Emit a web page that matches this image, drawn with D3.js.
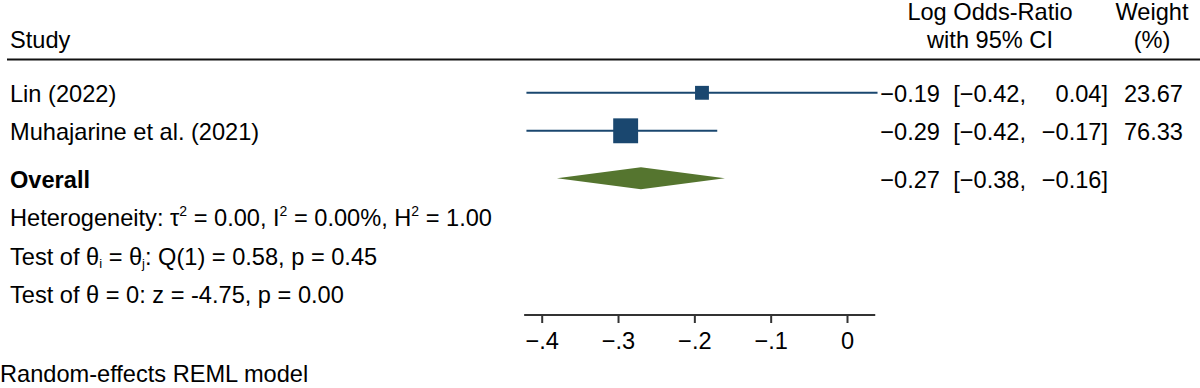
<!DOCTYPE html>
<html>
<head>
<meta charset="utf-8">
<script src="https://cdn.jsdelivr.net/npm/d3@7"></script>
<style>
  html, body { margin: 0; padding: 0; background: #fff; }
  svg { display: block; }
  text { font-family: "Liberation Sans", Arial, Helvetica, sans-serif; font-size: 23.6px; fill: #000; }
</style>
</head>
<body>
<svg id="chart" width="1200" height="388"></svg>
<script>
// ---- data ----
const studies = ["Lin (2022)", "Muhajarine et al. (2021)"];
const estimates = [-0.19, -0.29];
const ciLow = [-0.42, -0.42];
const ciHigh = [0.04, -0.17];
const weights = [23.67, 76.33];
const overall = { label: "Overall", est: -0.27, lo: -0.38, hi: -0.16 };
const statLines = [
  "Heterogeneity: τ² = 0.00, I² = 0.00%, H² = 1.00",
  "Test of θi = θj: Q(1) = 0.58, p = 0.45",
  "Test of θ = 0: z = -4.75, p = 0.00"
];
const tickValues = [-0.4, -0.3, -0.2, -0.1, 0];
const tickLabels = ["\u2212.4", "\u2212.3", "\u2212.2", "\u2212.1", "0"];
const footnote = "Random-effects REML model";

// ---- setup ----
const navy = "#1a476f";
const green = "#55752f";
const svg = d3.select("#chart");
const x = d3.scaleLinear().domain([-0.4, 0]).range([541.7, 847]);
const size = d3.scaleSqrt().domain([0, 100]).range([0, 28.5]);

const fmt = v => (v < 0 ? "\u2212" : "") + Math.abs(v).toFixed(2);

// header
svg.append("text").attr("x", 10).attr("y", 48).text("Study");
svg.append("text").attr("x", 990).attr("y", 20).attr("text-anchor", "middle").text("Log Odds-Ratio");
svg.append("text").attr("x", 990).attr("y", 48).attr("text-anchor", "middle").text("with 95% CI");
svg.append("text").attr("x", 1152).attr("y", 20).attr("text-anchor", "middle").text("Weight");
svg.append("text").attr("x", 1152).attr("y", 48).attr("text-anchor", "middle").text("(%)");
svg.append("line").attr("x1", 7).attr("x2", 1200).attr("y1", 59.5).attr("y2", 59.5)
  .attr("stroke", "#111").attr("stroke-width", 2);

const rowBase = [101.5, 139.5];
studies.forEach((s, i) => {
  const b = rowBase[i];
  const cy = b - 8.7;
  svg.append("text").attr("x", 10).attr("y", b).text(s);
  svg.append("line").attr("x1", x(ciLow[i])).attr("x2", x(ciHigh[i]))
    .attr("y1", cy).attr("y2", cy).attr("stroke", navy).attr("stroke-width", 2);
  const w = size(weights[i]);
  svg.append("rect").attr("x", x(estimates[i]) - w / 2).attr("y", cy - w / 2)
    .attr("width", w).attr("height", w).attr("fill", navy);
  svg.append("text").attr("x", 940).attr("y", b).attr("text-anchor", "end").text(fmt(estimates[i]));
  svg.append("text").attr("x", 1026).attr("y", b).attr("text-anchor", "end").text("[" + fmt(ciLow[i]) + ",");
  svg.append("text").attr("x", 1108).attr("y", b).attr("text-anchor", "end").text(fmt(ciHigh[i]) + "]");
  svg.append("text").attr("x", 1183).attr("y", b).attr("text-anchor", "end").text(weights[i].toFixed(2));
});

// overall
{
  const b = 188;
  const cy = b - 9.7;
  svg.append("text").attr("x", 10).attr("y", b).attr("font-weight", "bold").text(overall.label);
  const pts = [[x(overall.lo), cy], [x(overall.est), cy - 11], [x(overall.hi), cy], [x(overall.est), cy + 11]];
  svg.append("polygon").attr("points", pts.map(p => p.join(",")).join(" ")).attr("fill", green);
  svg.append("text").attr("x", 940).attr("y", b).attr("text-anchor", "end").text(fmt(overall.est));
  svg.append("text").attr("x", 1026).attr("y", b).attr("text-anchor", "end").text("[" + fmt(overall.lo) + ",");
  svg.append("text").attr("x", 1108).attr("y", b).attr("text-anchor", "end").text(fmt(overall.hi) + "]");
}

// stats lines with super/subscripts
const statBase = [226, 264.5, 303];
{
  const t = svg.append("text").attr("x", 10).attr("y", statBase[0]);
  t.append("tspan").text("Heterogeneity: τ");
  t.append("tspan").attr("font-size", "14px").attr("dy", -10).text("2");
  t.append("tspan").attr("dy", 10).text(" = 0.00, I");
  t.append("tspan").attr("font-size", "14px").attr("dy", -10).text("2");
  t.append("tspan").attr("dy", 10).text(" = 0.00%, H");
  t.append("tspan").attr("font-size", "14px").attr("dy", -10).text("2");
  t.append("tspan").attr("dy", 10).text(" = 1.00");
}
{
  const t = svg.append("text").attr("x", 10).attr("y", statBase[1]);
  t.append("tspan").text("Test of θ");
  t.append("tspan").attr("font-size", "13px").attr("dy", 3).text("i");
  t.append("tspan").attr("dy", -3).text(" = θ");
  t.append("tspan").attr("font-size", "13px").attr("dy", 3).text("j");
  t.append("tspan").attr("dy", -3).text(": Q(1) = 0.58, p = 0.45");
}
svg.append("text").attr("x", 10).attr("y", statBase[2]).text(statLines[2]);

// axis
const axisY = 315;
const axisG = svg.append("g").attr("transform", `translate(0,${axisY})`);
axisG.append("line").attr("x1", x(-0.423)).attr("x2", x(0.037)).attr("y1", 0).attr("y2", 0)
  .attr("stroke", "#333").attr("stroke-width", 2);
const axis = d3.axisBottom(x).tickValues(tickValues).tickSize(8).tickPadding(9)
  .tickFormat((d, i) => tickLabels[i]);
const ag = axisG.append("g").call(axis);
ag.select(".domain").remove();
ag.selectAll(".tick line").attr("stroke", "#333").attr("stroke-width", 2);
ag.selectAll(".tick text").style("font-family", '"Liberation Sans", Arial, sans-serif').style("font-size", "23.6px").attr("fill", "#000");

svg.append("text").attr("x", 0).attr("y", 382).text(footnote);
</script>
</body>
</html>
